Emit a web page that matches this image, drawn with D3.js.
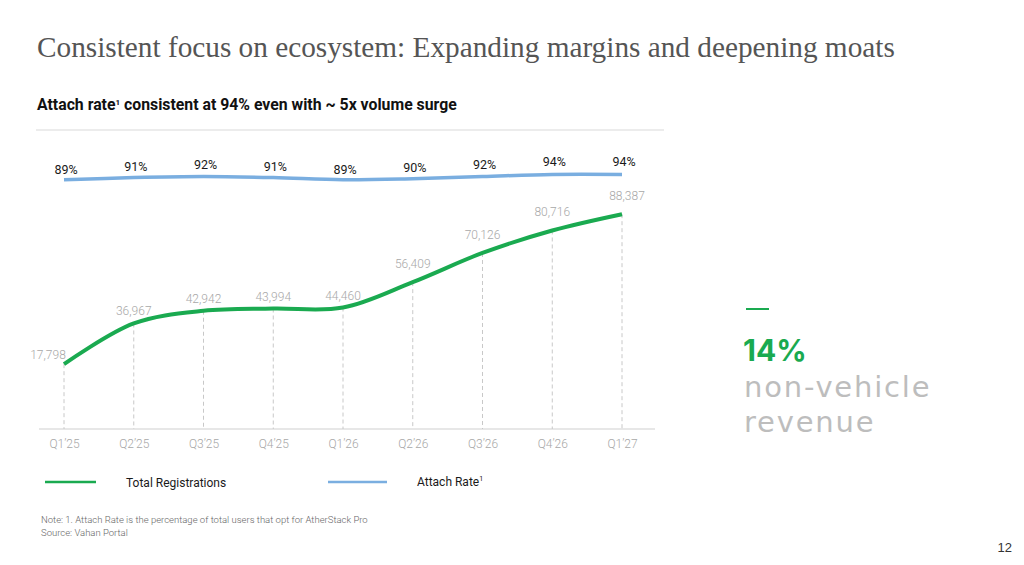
<!DOCTYPE html>
<html>
<head>
<meta charset="utf-8">
<script src="https://cdn.jsdelivr.net/npm/d3@7"></script>
<style>
  body { margin: 0; background: #fff; }
  svg { display: block; }
</style>
</head>
<body>
<svg width="1024" height="565"></svg>
<script>
// data
var quarters = ["Q1’25", "Q2’25", "Q3’25", "Q4’25", "Q1’26", "Q2’26", "Q3’26", "Q4’26", "Q1’27"];
var registrations = [17798, 36967, 42942, 43994, 44460, 56409, 70126, 80716, 88387];
var attachRate = [89, 91, 92, 91, 89, 90, 92, 94, 94];

var green = "#1aaa50", blue = "#7aaee0";
var sans = "Roboto, 'Noto Sans', sans-serif";

var svg = d3.select("svg");

// shrink/grow a text so it spans the given width
function fit(t, w) {
  var fs = parseFloat(t.attr("font-size"));
  var cur = t.node().getComputedTextLength();
  if (cur > 0) t.attr("font-size", (fs * w / cur).toFixed(2));
  return t;
}

// title + subtitle
fit(svg.append("text")
  .attr("x", 37).attr("y", 57)
  .attr("font-family", "'Liberation Serif', 'DejaVu Serif', serif")
  .attr("font-size", 25)
  .attr("fill", "#555")
  .text("Consistent focus on ecosystem: Expanding margins and deepening moats"), 858);

var sub = svg.append("text")
  .attr("x", 37).attr("y", 110)
  .attr("font-family", sans)
  .attr("font-weight", 700)
  .attr("font-size", 13)
  .attr("fill", "#111");
sub.append("tspan").text("Attach rate");
sub.append("tspan").attr("font-size", 8).attr("dy", -5).text("1");
sub.append("tspan").attr("dy", 5).text(" consistent at 94% even with ~ 5x volume surge");
fit(sub, 421);

svg.append("line")
  .attr("x1", 36).attr("x2", 664).attr("y1", 130).attr("y2", 130)
  .attr("stroke", "#d9d9d9").attr("stroke-width", 1.2);

// scales
var x = d3.scalePoint().domain(quarters).range([64, 622]);
var y = d3.scaleLinear().domain([0, 100000]).range([402, 189.5]);
var yA = d3.scaleLinear().domain([85, 100]).range([184, 168]);
var baseY = 429;

var xAxis = svg.append("g")
  .attr("transform", "translate(0," + baseY + ")")
  .call(d3.axisBottom(x).tickSize(0).tickPadding(10));
xAxis.select(".domain").remove();
xAxis.append("line")
  .attr("x1", 39).attr("x2", 655)
  .attr("stroke", "#cfcfcf").attr("stroke-width", 1.2);
xAxis.selectAll("text")
  .attr("font-family", sans)
  .attr("font-weight", 300)
  .attr("font-size", 12)
  .attr("fill", "#a8a8a8");

var pts = quarters.map(function(q, i) { return { q: q, v: registrations[i], a: attachRate[i] }; });

// dashed drop lines
svg.selectAll(".drop")
  .data(pts)
  .enter().append("line")
  .attr("class", "drop")
  .attr("x1", function(d) { return x(d.q); })
  .attr("x2", function(d) { return x(d.q); })
  .attr("y1", function(d) { return y(d.v); })
  .attr("y2", baseY)
  .attr("stroke", "#c8c8c8")
  .attr("stroke-width", 1)
  .attr("stroke-dasharray", "4,3");

// lines
var regLine = d3.line()
  .x(function(d) { return x(d.q); })
  .y(function(d) { return y(d.v); })
  .curve(d3.curveCatmullRom.alpha(0.5));

var attLine = d3.line()
  .x(function(d) { return x(d.q); })
  .y(function(d) { return yA(d.a); })
  .curve(d3.curveCatmullRom.alpha(0.5));

svg.append("path")
  .datum(pts)
  .attr("d", attLine)
  .attr("fill", "none")
  .attr("stroke", blue)
  .attr("stroke-width", 3.5);

svg.append("path")
  .datum(pts)
  .attr("d", regLine)
  .attr("fill", "none")
  .attr("stroke", green)
  .attr("stroke-width", 4)
  .attr("stroke-linecap", "butt");

// value labels
svg.selectAll(".vlab")
  .data(pts)
  .enter().append("text")
  .attr("class", "vlab")
  .attr("x", function(d, i) { return x(d.q) + (i === 0 ? -16 : i === pts.length - 1 ? 5 : 0); })
  .attr("y", function(d, i) { return y(d.v) - (i === 0 ? 5 : i > 4 ? 14 : 8); })
  .attr("text-anchor", "middle")
  .attr("font-family", sans)
  .attr("font-weight", 300)
  .attr("font-size", 12)
  .attr("fill", "#a8a8a8")
  .text(function(d) { return d3.format(",")(d.v); });

svg.selectAll(".alab")
  .data(pts)
  .enter().append("text")
  .attr("class", "alab")
  .attr("x", function(d) { return x(d.q) + 2; })
  .attr("y", function(d) { return yA(d.a) - 6 - (d.a - 89) * 0.5; })
  .attr("text-anchor", "middle")
  .attr("font-family", sans)
  .attr("font-size", 12.5)
  .attr("fill", "#1a1a1a")
  .text(function(d) { return d.a + "%"; });

// legend
svg.append("line").attr("x1", 45).attr("x2", 96).attr("y1", 482).attr("y2", 482)
  .attr("stroke", green).attr("stroke-width", 2.5);
svg.append("text").attr("x", 126).attr("y", 487)
  .attr("font-family", sans).attr("font-size", 12).attr("fill", "#1a1a1a")
  .text("Total Registrations");
svg.append("line").attr("x1", 328).attr("x2", 387).attr("y1", 482).attr("y2", 482)
  .attr("stroke", blue).attr("stroke-width", 2.5);
var lg = svg.append("text").attr("x", 417).attr("y", 486)
  .attr("font-family", sans).attr("font-size", 12).attr("fill", "#1a1a1a");
lg.append("tspan").text("Attach Rate");
lg.append("tspan").attr("font-size", 7).attr("dy", -5).text("1");

// notes
svg.append("text").attr("x", 41).attr("y", 523)
  .attr("font-family", sans).attr("font-weight", 300).attr("font-size", 9.5).attr("fill", "#666")
  .text("Note: 1. Attach Rate is the percentage of total users that opt for AtherStack Pro");
svg.append("text").attr("x", 41).attr("y", 536)
  .attr("font-family", sans).attr("font-weight", 300).attr("font-size", 9.5).attr("fill", "#666")
  .text("Source: Vahan Portal");

// callout on the right
svg.append("line").attr("x1", 746).attr("x2", 769).attr("y1", 309).attr("y2", 309)
  .attr("stroke", green).attr("stroke-width", 2);
svg.append("text").attr("x", 743).attr("y", 361)
  .attr("font-family", "Inter, Lato, sans-serif").attr("font-weight", 700)
  .attr("font-size", 30).attr("fill", green)
  .text("14%");
svg.append("text").attr("x", 744).attr("y", 397)
  .attr("font-family", "'DejaVu Sans', sans-serif").attr("font-weight", 400)
  .attr("font-size", 29).attr("letter-spacing", 1.8).attr("fill", "#bdbdbd")
  .text("non-vehicle");
svg.append("text").attr("x", 744).attr("y", 432)
  .attr("font-family", "'DejaVu Sans', sans-serif").attr("font-weight", 400)
  .attr("font-size", 29).attr("letter-spacing", 1.8).attr("fill", "#bdbdbd")
  .text("revenue");

svg.append("text").attr("x", 1012).attr("y", 552)
  .attr("text-anchor", "end")
  .attr("font-family", "'Liberation Sans', Arial, sans-serif")
  .attr("font-size", 13).attr("fill", "#333")
  .text("12");
</script>
</body>
</html>
